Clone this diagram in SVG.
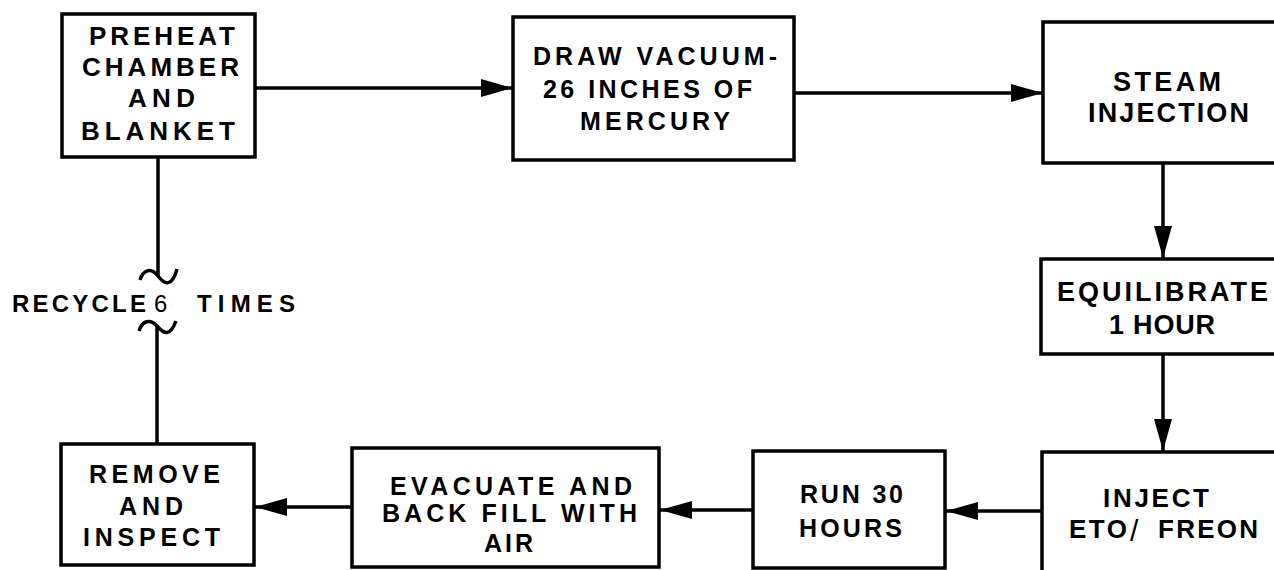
<svg xmlns="http://www.w3.org/2000/svg" width="1274" height="570" viewBox="0 0 1274 570">
<defs>
<style>
.box{fill:#fff;stroke:#000;stroke-width:3.5}
.ln{fill:none;stroke:#000;stroke-width:3.5}
.t{font-family:"Liberation Sans",Arial,sans-serif;font-weight:700;fill:#000}
</style>
<marker id="ah" viewBox="0 0 32 18" refX="32" refY="9" markerWidth="32" markerHeight="18" markerUnits="userSpaceOnUse" orient="auto">
<path d="M0,0 L32,9 L0,18 Z" fill="#000"/>
</marker>
</defs>
<rect width="1274" height="570" fill="#fff"/>

<g id="connectors">
<line class="ln" x1="255" y1="88" x2="513" y2="88" marker-end="url(#ah)"/>
<line class="ln" x1="794" y1="93" x2="1043" y2="93" marker-end="url(#ah)"/>
<line class="ln" x1="1163" y1="163" x2="1163" y2="258" marker-end="url(#ah)"/>
<line class="ln" x1="1163" y1="354" x2="1163" y2="451" marker-end="url(#ah)"/>
<line class="ln" x1="1042" y1="511" x2="946" y2="511" marker-end="url(#ah)"/>
<line class="ln" x1="753" y1="510" x2="660" y2="510" marker-end="url(#ah)"/>
<line class="ln" x1="352" y1="507" x2="255" y2="507" marker-end="url(#ah)"/>
<path class="ln" d="M158,157 V276"/>
<path class="ln" stroke-width="4" d="M140,280 C143,270 151,267 158,276 S172,287 177,269"/>
<path class="ln" stroke-width="4" d="M139,331 C142,321 150,318 157,326 S170,337 176,321"/>
<path class="ln" d="M157,326 V444"/>
</g>

<g id="recycle-label">
<text class="t" font-size="24" y="312"><tspan x="12" textLength="134" lengthAdjust="spacing">RECYCLE</tspan> <tspan x="154" font-weight="400">6</tspan> <tspan x="197" textLength="98" lengthAdjust="spacing">TIMES</tspan></text>
</g>

<g id="n-preheat">
<rect class="box" x="62" y="14" width="193" height="143"/>
<text class="t" font-size="26" x="89" y="45" textLength="146" lengthAdjust="spacing">PREHEAT</text>
<text class="t" font-size="26" x="82" y="76" textLength="157" lengthAdjust="spacing">CHAMBER</text>
<text class="t" font-size="26" x="128" y="107" textLength="67" lengthAdjust="spacing">AND</text>
<text class="t" font-size="26" x="81" y="140" textLength="154" lengthAdjust="spacing">BLANKET</text>
</g>

<g id="n-vacuum">
<rect class="box" x="513" y="17" width="281" height="143"/>
<text class="t" font-size="25" x="533" y="65" textLength="244" lengthAdjust="spacing">DRAW VACUUM-</text>
<text class="t" font-size="25" x="543" y="98" textLength="209" lengthAdjust="spacing">26 INCHES OF</text>
<text class="t" font-size="25" x="580" y="130" textLength="150" lengthAdjust="spacing">MERCURY</text>
</g>

<g id="n-steam">
<rect class="box" x="1043" y="22" width="260" height="141"/>
<text class="t" font-size="27" x="1113" y="91" textLength="108" lengthAdjust="spacing">STEAM</text>
<text class="t" font-size="27" x="1088" y="122" textLength="161" lengthAdjust="spacing">INJECTION</text>
</g>

<g id="n-equilibrate">
<rect class="box" x="1041" y="259" width="262" height="95"/>
<text class="t" font-size="27" x="1057" y="301" textLength="211" lengthAdjust="spacing">EQUILIBRATE</text>
<text class="t" font-size="27" x="1109" y="334" textLength="106" lengthAdjust="spacing">1 HOUR</text>
</g>

<g id="n-inject">
<rect class="box" x="1042" y="452" width="262" height="140"/>
<text class="t" font-size="26" x="1103" y="507" textLength="106" lengthAdjust="spacing">INJECT</text>
<text class="t" font-size="26" y="538"><tspan x="1069" textLength="58" lengthAdjust="spacing">ETO</tspan><tspan x="1130" y="541" font-size="30" font-weight="400">/</tspan> <tspan x="1158" y="538" textLength="100" lengthAdjust="spacing">FREON</tspan></text>
</g>

<g id="n-run">
<rect class="box" x="753" y="451" width="192" height="117"/>
<text class="t" font-size="25" x="800" y="503" textLength="103" lengthAdjust="spacing">RUN 30</text>
<text class="t" font-size="25" x="799" y="537" textLength="103" lengthAdjust="spacing">HOURS</text>
</g>

<g id="n-evacuate">
<rect class="box" x="352" y="448" width="307" height="119"/>
<text class="t" font-size="25" x="390" y="495" textLength="242" lengthAdjust="spacing">EVACUATE AND</text>
<text class="t" font-size="25" x="382" y="522" textLength="255" lengthAdjust="spacing">BACK FILL WITH</text>
<text class="t" font-size="25" x="484" y="552" textLength="49" lengthAdjust="spacing">AIR</text>
</g>

<g id="n-remove">
<rect class="box" x="61" y="444" width="193" height="121"/>
<text class="t" font-size="25" x="89" y="483" textLength="131" lengthAdjust="spacing">REMOVE</text>
<text class="t" font-size="25" x="119" y="515" textLength="64" lengthAdjust="spacing">AND</text>
<text class="t" font-size="25" x="83" y="546" textLength="137" lengthAdjust="spacing">INSPECT</text>
</g>
</svg>
